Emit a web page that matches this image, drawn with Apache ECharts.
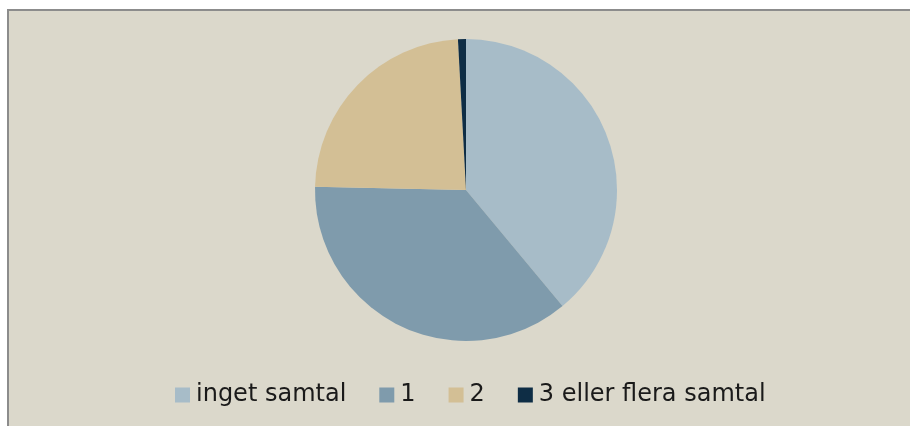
<!DOCTYPE html>
<html>
<head>
<meta charset="utf-8">
<script src="https://cdn.jsdelivr.net/npm/echarts@6/dist/echarts.min.js"></script>
<style>
    html, body { margin: 0; padding: 0; background: #fff; }
    #chart { width: 910px; height: 426px; }
</style>
</head>
<body>
<div id="chart"></div>
<script>
// andelar per kategori (%)
var categories = ['inget samtal', '1', '2', '3 eller flera samtal'];
var values = [38.96, 36.39, 23.8, 0.85];
var colors = ['#A7BCC8', '#7F9BAC', '#D3BF95', '#0E2D45'];

var myChart = echarts.init(document.getElementById('chart'), null, {
    renderer: 'canvas'
});

var data = categories.map(function (c, i) {
    return { name: c, value: values[i], itemStyle: { color: colors[i] } };
});

var option = {
    backgroundColor: '#ffffff',
    animation: false,
    graphic: [
        {
            type: 'rect',
            z: -10,
            shape: { x: 8, y: 10, width: 920, height: 430 },
            style: { fill: '#DBD8CB', stroke: '#8c8c8c', lineWidth: 2 }
        }
    ],
    legend: {
        data: categories,
        left: 175,
        top: 383,
        padding: 0,
        icon: 'rect',
        itemWidth: 15,
        itemHeight: 15,
        itemGap: 33,
        textStyle: {
            fontFamily: 'DejaVu Sans',
            fontSize: 24,
            color: '#1a1a1a',
            padding: [0, 0, 0, 1]
        }
    },
    series: [
        {
            type: 'pie',
            center: [466, 190],
            radius: 151,
            startAngle: 90,
            clockwise: true,
            label: { show: false },
            labelLine: { show: false },
            emphasis: { disabled: true },
            data: data
        }
    ]
};

myChart.setOption(option);
</script>
</body>
</html>
